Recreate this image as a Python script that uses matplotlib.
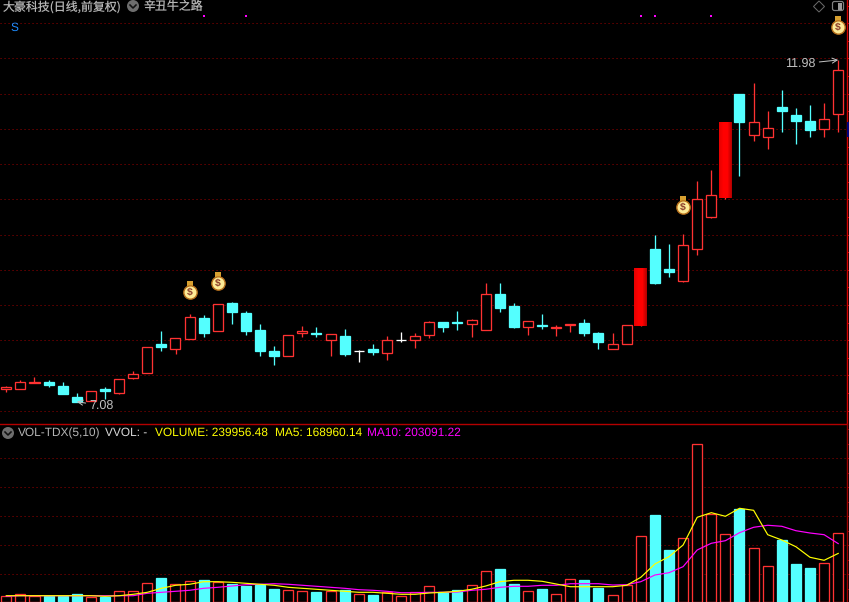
import numpy as np
import matplotlib
matplotlib.use('Agg')
import matplotlib.pyplot as plt
from matplotlib.colors import LinearSegmentedColormap
from matplotlib.patches import Circle, FancyBboxPatch, Polygon, Rectangle

plt.rcParams['text.hinting'] = 'none'
plt.rcParams['lines.scale_dashes'] = False

# daily candles, index 0..59
opens = [7.26, 7.26, 7.35, 7.36, 7.31, 7.14, 7.09, 7.26, 7.21, 7.42,
         7.49, 7.91, 7.83, 7.98, 8.28, 8.10, 8.49, 8.35, 8.11, 7.81,
         7.73, 8.07, 8.06, 7.97, 8.02, 7.80, 7.84, 7.78, 7.97, 7.97,
         8.03, 8.22, 8.22, 8.20, 8.11, 8.62, 8.45, 8.15, 8.18, 8.13,
         8.18, 8.21, 8.06, 7.84, 7.90, 8.17, 9.27, 8.98, 8.81, 9.27,
         9.73, 10.00, 11.49, 10.91, 10.87, 11.31, 11.19, 11.10, 10.99, 11.20]
highs = [7.31, 7.39, 7.44, 7.39, 7.36, 7.21, 7.24, 7.29, 7.40, 7.52,
         7.86, 8.09, 8.00, 8.34, 8.32, 8.48, 8.51, 8.38, 8.19, 7.88,
         8.03, 8.17, 8.15, 8.05, 8.12, 7.82, 7.91, 8.02, 8.08, 8.06,
         8.24, 8.22, 8.38, 8.26, 8.78, 8.78, 8.49, 8.23, 8.34, 8.18,
         8.20, 8.27, 8.08, 8.06, 8.18, 9.00, 9.47, 9.34, 9.49, 10.24,
         10.40, 11.08, 11.49, 11.65, 11.25, 11.55, 11.29, 11.33, 11.36, 11.98]
lows = [7.22, 7.26, 7.35, 7.29, 7.19, 7.08, 7.09, 7.12, 7.19, 7.41,
        7.49, 7.80, 7.77, 7.98, 8.01, 8.10, 8.20, 8.04, 7.74, 7.60,
        7.73, 8.01, 8.01, 7.74, 7.73, 7.65, 7.75, 7.68, 7.93, 7.85,
        7.99, 8.08, 8.11, 8.01, 8.11, 8.36, 8.14, 8.03, 8.12, 8.02,
        8.08, 8.02, 7.84, 7.84, 7.90, 8.17, 8.77, 8.87, 8.80, 9.19,
        9.72, 9.99, 10.32, 10.82, 10.71, 10.95, 10.78, 10.88, 10.88, 10.95]
closes = [7.29, 7.36, 7.36, 7.32, 7.19, 7.08, 7.23, 7.24, 7.40, 7.47,
          7.86, 7.86, 8.00, 8.30, 8.07, 8.48, 8.36, 8.10, 7.81, 7.73,
          8.03, 8.10, 8.05, 8.05, 7.77, 7.80, 7.79, 7.97, 7.97, 8.02,
          8.22, 8.15, 8.21, 8.25, 8.62, 8.43, 8.15, 8.23, 8.16, 8.15,
          8.20, 8.06, 7.93, 7.90, 8.18, 9.00, 8.78, 8.94, 9.32, 9.98,
          10.05, 11.08, 11.09, 11.09, 11.01, 11.25, 11.10, 10.98, 11.14, 11.83]

volumes = [19800, 26800, 19800, 20900, 20900, 26800, 16300, 18400, 37200, 37200,
           65000, 82400, 61600, 72000, 76500, 68500, 62600, 55600, 59100, 45200,
           40700, 37200, 34800, 37200, 41700, 26800, 24300, 33700, 20900, 33700,
           54600, 33700, 41700, 58100, 106800, 114800, 62600, 37200, 45200, 26800,
           78900, 76500, 48700, 23300, 59100, 228500, 302600, 180900, 221500, 548500,
           307100, 235500, 323500, 186800, 124200, 215600, 132200, 118300, 134600, 239956]
ma5 = [21900, 21900, 21900, 21900, 21900, 21900, 21900, 19800, 21900, 26800,
       33700, 47600, 58100, 61600, 70600, 70600, 68500, 65000, 61600, 58100,
       51100, 47600, 44200, 40700, 37200, 33700, 33700, 30300, 26800, 26800,
       31300, 33700, 37200, 44200, 55600, 70600, 75500, 75500, 72000, 62600,
       53200, 53200, 53200, 53200, 58100, 85900, 132200, 157600, 198200, 294600,
       310600, 298100, 325900, 318900, 234100, 215600, 192300, 155500, 145000, 168960]
ma10 = [19800, 21900, 21900, 21900, 21900, 21900, 21900, 21900, 21900, 21900,
        30300, 33700, 37200, 40700, 47600, 51100, 55600, 60200, 61600, 63600,
        61600, 58100, 54600, 51100, 47600, 42800, 40700, 37200, 32300, 32300,
        33700, 33700, 34800, 40700, 44200, 51100, 54600, 54600, 58100, 58100,
        63600, 63600, 63600, 59100, 60200, 70600, 93900, 101900, 122800, 180900,
        204200, 213200, 241000, 259800, 266800, 263300, 248000, 240000, 234100, 203091]

signal_days = [14, 17, 45, 46, 50]
bag_days = [13, 15, 48, 59]
bag_prices = [8.67, 8.80, 9.89, 12.47]
solid_days = [45, 51]

UP = '#ff3232'
DOWN = '#54ffff'
GRID = '#b00000'
CJK = ['Noto Sans CJK SC', 'DejaVu Sans']
LATIN = 'Liberation Sans'

W, H = 849, 602
SPLIT = 424
RIGHT = 846.5
STEP = 14.1
FIRST = 6.3
xlim = (-FIRST / STEP, (RIGHT - FIRST) / STEP)
x = np.arange(len(opens))
body_w = 10 / STEP
px = 0.72  # one pixel in points at dpi 100
dots = (0, (1.1 * px, 2.9 * px))  # scale_dashes is off, so these are points

fig = plt.figure(figsize=(W / 100, H / 100), dpi=100, facecolor='black')
ax = fig.add_axes([0, (H - SPLIT) / H, RIGHT / W, SPLIT / H], facecolor='black')
ax_vol = fig.add_axes([0, 0, RIGHT / W, (H - SPLIT) / H], facecolor='black')

# price pane
ax.set_xlim(*xlim)
ax.set_ylim(6.76, 12.84)
grid_prices = 12.506 - 0.5048 * np.arange(12)
for g in grid_prices:
    ax.plot(xlim, [g, g], color=GRID, lw=0.8 * px, ls=dots, zorder=1)

for i in x:
    o, h, l, c = opens[i], highs[i], lows[i], closes[i]
    if o == c:
        col = 'white'
    elif c > o:
        col = UP
    else:
        col = DOWN
    ax.vlines(i, l, h, color=col, lw=1.3 * px, zorder=2)
    if i in solid_days:
        continue
    face = DOWN if col == DOWN else 'black'
    if o == c:
        ax.hlines(o, i - 0.35, i + 0.35, color=col, lw=1.3 * px, zorder=3)
    else:
        ax.bar(i, abs(c - o), bottom=min(o, c), width=body_w, facecolor=face,
               edgecolor=col, linewidth=1.3 * px, zorder=3)

red_ramp = LinearSegmentedColormap.from_list('ramp', ['#e80000', '#ff0000', '#ff0000', '#b80000'])
for i in solid_days:
    ax.imshow(np.linspace(0, 1, 13).reshape(1, -1), cmap=red_ramp, aspect='auto',
              extent=(i - 6.5 / STEP, i + 6.5 / STEP, opens[i], closes[i]), zorder=3)
ax.set_xlim(*xlim)
ax.set_ylim(6.76, 12.84)

ax.scatter(signal_days, [12.615] * len(signal_days), marker='s', s=3.5, color='#ff00ff',
           linewidths=0, zorder=4)

# money bags above the candles
for d, p in zip(bag_days, bag_prices):
    ax.scatter(d, p + 0.095, marker='s', s=18, color='#d8a030', linewidths=0, zorder=5)
    ax.scatter(d, p - 0.02, marker='o', s=92, facecolor='#fdeb96', edgecolor='#b8701c',
               linewidths=1.0, zorder=6)
    ax.text(d, p - 0.025, '$', color='#8a3a2a', fontsize=7.5, fontweight='bold',
            ha='center', va='center', family=LATIN, zorder=7)

ax.annotate('7.08', xy=(5, 7.08), xytext=(13, -4), textcoords='offset pixels',
            color='#c0c0c0', fontsize=9, family=LATIN, ha='left', va='center',
            arrowprops=dict(arrowstyle='->', color='#c0c0c0', lw=px, shrinkA=1, shrinkB=0))
ax.annotate('11.98', xy=(59, 11.98), xytext=(-23, -4), textcoords='offset pixels',
            color='#c0c0c0', fontsize=9, family=LATIN, ha='right', va='center',
            arrowprops=dict(arrowstyle='->', color='#c0c0c0', lw=px, shrinkA=1, shrinkB=0))

# volume pane
ax_vol.set_xlim(*xlim)
ax_vol.set_ylim(0, (H - SPLIT) * 3478)
grid_vols = 96340 + 100900 * np.arange(5)
for g in grid_vols:
    ax_vol.plot(xlim, [g, g], color=GRID, lw=0.8 * px, ls=dots, zorder=1)
for i in x:
    down = closes[i] < opens[i]
    ax_vol.bar(i, volumes[i], width=body_w, facecolor=DOWN if down else 'black',
               edgecolor=DOWN if down else UP, linewidth=1.3 * px, zorder=2)
ax_vol.plot(x, ma10, color='#ff00ff', lw=1.2 * px, zorder=3)
ax_vol.plot(x, ma5, color='#ffff00', lw=1.2 * px, zorder=4)

# axes frames: only the right scale and the pane separator are visible
for a, col, ticks in ((ax, '#d80000', grid_prices), (ax_vol, '#a00000', grid_vols)):
    for side in ('left', 'bottom', 'top'):
        a.spines[side].set_visible(False)
    a.spines['right'].set_color(col)
    a.spines['right'].set_linewidth(1.4 * px)
    a.set_xticks([])
    half = (ticks[0] - ticks[1]) / 2
    lo, hi = a.get_ylim()
    all_ticks = [t for k in range(-2, 26) for t in [ticks[0] + half * (1 - k)] if lo < t < hi]
    a.yaxis.tick_right()
    a.set_yticks(all_ticks)
    a.set_yticklabels([])
    a.tick_params(axis='y', direction='out', length=2, width=px, color=col, pad=0)
ax_vol.spines['top'].set_visible(True)
ax_vol.spines['top'].set_color('#b40000')
ax_vol.spines['top'].set_linewidth(1.4 * px)

# screen chrome in pixel coordinates
over = fig.add_axes([0, 0, 1, 1], facecolor='none')
over.set_xlim(0, W)
over.set_ylim(H, 0)
over.axis('off')


def chevron(cx, cy):
    over.add_patch(Circle((cx, cy), 6, facecolor='#6e6e6e', edgecolor='none'))
    over.plot([cx - 3, cx, cx + 3], [cy - 1, cy + 2, cy - 1], color='#111111', lw=1.6 * px)


over.text(3, 6.5, '大豪科技(日线,前复权)', color='#b4b4b4', fontsize=8.6, family=CJK,
          ha='left', va='center')
chevron(133, 6)
over.text(144, 6.5, '辛丑牛之路', color='#b4b4b4', fontsize=8.6, family=CJK,
          ha='left', va='center')
over.text(14, 28, 'S', color='#1e8cff', fontsize=8.6, family=LATIN, ha='center', va='center')

over.add_patch(Polygon([(819, 1), (824.5, 6.5), (819, 12), (813.5, 6.5)], closed=True,
                       facecolor='none', edgecolor='#6a6a6a', lw=px))
over.add_patch(FancyBboxPatch((832.5, 1.5), 11, 9, boxstyle='round,pad=0,rounding_size=2',
                              facecolor='none', edgecolor='#808080', lw=1.2 * px))
over.add_patch(Rectangle((838, 3), 4, 6.5, facecolor='#9a9a9a', edgecolor='none'))
over.add_patch(Rectangle((847, 122), 2, 15, facecolor='#000080', edgecolor='none'))

chevron(8, 433)
legend = [(18, 'VOL-TDX(5,10)', '#b4b4b4'), (105, 'VVOL: -', '#d8d8d8'),
          (155, 'VOLUME: 239956.48', '#ffff00'), (275, 'MA5: 168960.14', '#ffff00'),
          (367, 'MA10: 203091.22', '#ff00ff')]
for lx, label, col in legend:
    over.text(lx, 433, label, color=col, fontsize=8.6, family=LATIN, ha='left', va='center')

fig.savefig('out.png', dpi=100, facecolor='black')
